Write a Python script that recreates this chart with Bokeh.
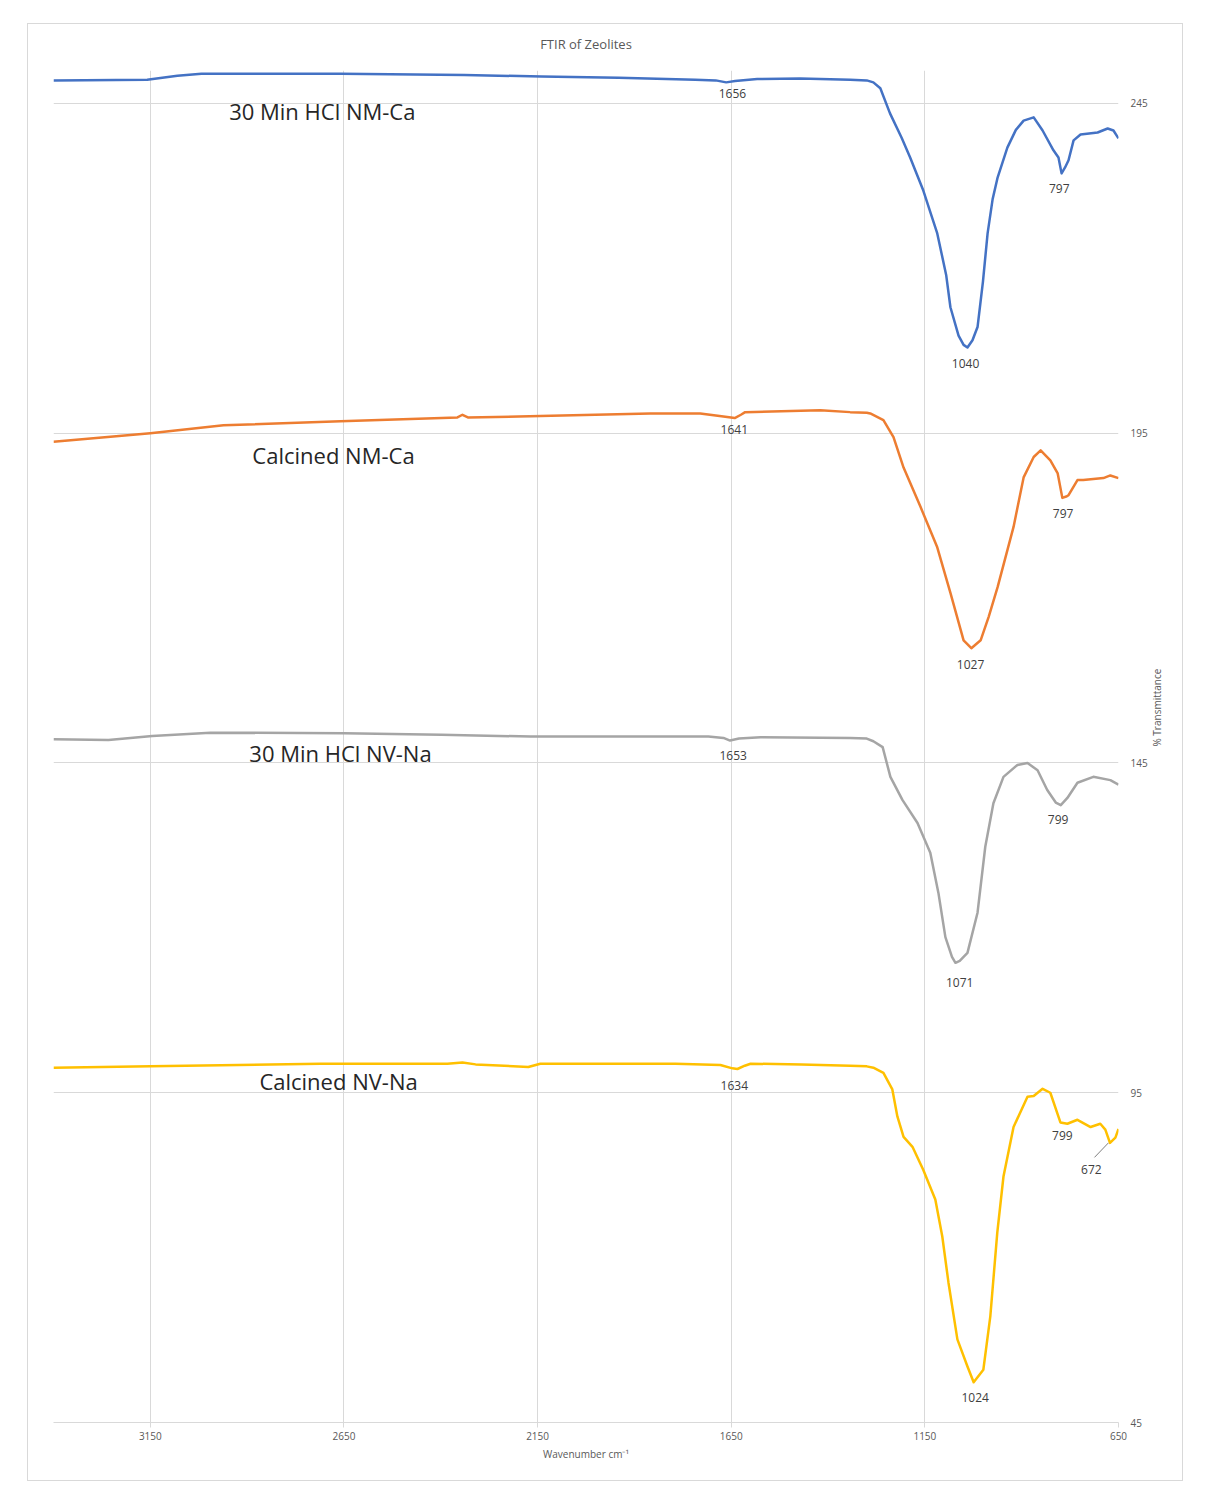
import math
from bokeh.plotting import figure
from bokeh.models import Range1d, FixedTicker, ColumnDataSource
from bokeh.core.properties import value
from bokeh.embed import file_html
from bokeh.resources import INLINE

# ---------------- data ----------------
# 30 Min HCl NM-Ca
wn_hcl_nmca = [3400, 3158, 3080, 3018, 2659, 2339, 2140, 1941, 1743, 1690, 1663, 1640, 1583,
               1472, 1343, 1300, 1283, 1265, 1240, 1210, 1188, 1154, 1118, 1095, 1084, 1063, 1050, 1040,
               1027, 1014, 1000, 988, 975, 962, 937, 915, 895, 869, 846, 818, 805, 797, 788, 779, 766, 748, 704,
               678, 663, 650]
t_hcl_nmca = [248.5, 248.6, 249.2, 249.5, 249.5, 249.3, 249.1, 248.9, 248.6, 248.5, 248.2, 248.4, 248.7,
              248.8, 248.6, 248.5, 248.2, 247.3, 243.5, 239.8, 236.8, 231.8, 225.3, 219.0, 214.1, 209.8, 208.4, 208.0,
              209.1, 211.1, 218.0, 225.3, 230.5, 233.8, 238.3, 241.0, 242.4, 242.9, 240.9, 237.9, 236.8, 234.4, 235.3, 236.4, 239.4,
              240.3, 240.6, 241.2, 240.9, 239.7]

# Calcined NM-Ca
wn_cal_nmca = [3400, 3150, 2961, 2659, 2357, 2344, 2330, 2143, 1859, 1730, 1680, 1641,
               1625, 1614, 1420, 1343, 1300, 1291, 1257, 1231, 1205, 1161, 1118, 1084, 1050,
               1030, 1006, 985, 962, 921, 895, 869, 851, 826, 807, 795, 785, 779, 756, 741,
               689, 671, 650]
t_cal_nmca = [193.7, 195.0, 196.2, 196.8, 197.4, 197.8, 197.4, 197.6, 198.0, 198.0, 197.6, 197.3,
              197.8, 198.2, 198.5, 198.2, 198.1, 198.0, 197.0, 194.4, 189.8, 183.8, 177.7, 170.8, 163.6,
              162.4, 163.6, 167.2, 171.7, 180.8, 188.3, 191.4, 192.4, 190.9, 188.9, 185.2, 185.4, 185.6,
              187.9, 187.9, 188.2, 188.6, 188.2]

# 30 Min HCl NV-Na
wn_hcl_nvna = [3400, 3258, 3145, 2995, 2649, 2399, 2168, 1709, 1670, 1653, 1630, 1574,
               1343, 1300, 1283, 1259, 1239, 1208, 1169, 1136, 1115, 1097, 1080, 1071, 1060,
               1040, 1014, 994, 973, 947, 911, 885, 859, 834, 812, 799, 782, 756, 715,
               671, 650]
t_hcl_nvna = [148.6, 148.5, 149.1, 149.6, 149.5, 149.3, 149.0, 149.0, 148.8, 148.4, 148.7, 148.9,
              148.8, 148.7, 148.3, 147.4, 142.9, 139.4, 135.9, 131.4, 125.3, 118.6, 115.6, 114.7, 115.0,
              116.2, 122.3, 132.3, 138.9, 142.9, 144.7, 145.0, 143.9, 140.9, 139.0, 138.6, 139.7,
              142.0, 142.9, 142.4, 141.7]

# Calcined NV-Na
wn_cal_nvna = [3400, 3150, 2711, 2383, 2344, 2310, 2174, 2143, 1794, 1678, 1647, 1634,
               1615, 1600, 1469, 1343, 1300, 1283, 1257, 1234, 1221, 1205, 1182, 1154, 1123,
               1105, 1089, 1066, 1040, 1024, 999, 981, 963, 947, 921, 885, 869, 846,
               826, 800, 782, 756, 722, 697, 684, 672, 658, 650]
t_cal_nvna = [98.8, 99.0, 99.4, 99.4, 99.6, 99.3, 98.9, 99.4, 99.4, 99.2, 98.7, 98.6,
              99.1, 99.4, 99.3, 99.1, 99.0, 98.8, 98.0, 95.5, 91.4, 88.3, 86.8, 83.3, 78.8,
              73.2, 66.2, 57.6, 53.5, 51.1, 53.0, 61.1, 73.8, 82.3, 89.8, 94.4, 94.5, 95.6,
              95.0, 90.5, 90.3, 90.9, 89.8, 90.3, 89.4, 87.4, 88.2, 89.5]

series_names = ["30 Min HCl NM-Ca", "Calcined NM-Ca", "30 Min HCl NV-Na", "Calcined NV-Na"]
series_colors = ["#4472C4", "#ED7D31", "#A5A5A5", "#FFC000"]

# peak annotations
peak_text = ["1656", "1040", "797", "1641", "1027", "797", "1653", "1071", "799", "1634", "1024", "799", "672"]
peak_x = [1647, 1045, 803, 1642, 1032, 793, 1645, 1060, 806, 1642, 1020, 795, 720]
peak_y = [246.5, 205.6, 232.1, 195.6, 160.0, 182.9, 146.1, 111.7, 136.4, 96.1, 48.8, 88.5, 83.3]

# series name labels
name_x = [2706, 2677, 2659, 2664]
name_y = [243.9, 191.7, 146.5, 96.8]

x_ticks = [3150, 2650, 2150, 1650, 1150, 650]
y_ticks = [45, 95, 145, 195, 245]

# ---------------- figure ----------------
p = figure(width=1178, height=1480, output_backend="svg", toolbar_location=None,
           x_range=Range1d(3400, 650), y_range=Range1d(45, 250),
           y_axis_location="right",
           min_border_left=37, min_border_right=76, min_border_top=58, min_border_bottom=70,
           margin=(12, 0, 0, 16))
p.styles = {"outline": "1px solid #d9d9d9", "outline-offset": "-12px",
            "background-color": "white"}
p.outline_line_color = None
p.background_fill_color = "white"
p.border_fill_color = None

p.title.text = "FTIR of Zeolites"
p.title.align = "center"
p.title.text_font = "Open Sans"
p.title.text_font_size = "13px"
p.title.text_font_style = "normal"
p.title.text_color = "#595959"
p.title.standoff = 36

grid_color = "#d9d9d9"
p.xgrid.ticker = FixedTicker(ticks=x_ticks)
p.ygrid.ticker = FixedTicker(ticks=y_ticks)
p.xgrid.grid_line_color = grid_color
p.ygrid.grid_line_color = grid_color

xa = p.xaxis[0]
xa.ticker = FixedTicker(ticks=x_ticks)
xa.axis_line_color = grid_color
xa.major_tick_line_color = grid_color
xa.major_tick_out = 5
xa.major_tick_in = 0
xa.minor_tick_line_color = None
xa.major_label_text_font = "Open Sans"
xa.major_label_text_font_size = "10px"
xa.major_label_text_color = "#595959"
xa.major_label_standoff = 4
xa.axis_label = "Wavenumber cm⁻¹"
xa.axis_label_text_font = "Open Sans"
xa.axis_label_text_font_size = "10px"
xa.axis_label_text_font_style = "normal"
xa.axis_label_text_color = "#595959"
xa.axis_label_standoff = 4

ya = p.yaxis[0]
ya.ticker = FixedTicker(ticks=y_ticks)
ya.axis_line_color = None
ya.major_tick_line_color = None
ya.minor_tick_line_color = None
ya.major_label_text_font = "Open Sans"
ya.major_label_text_font_size = "10px"
ya.major_label_text_color = "#595959"
ya.major_label_standoff = 6
ya.axis_label = "% Transmittance"
ya.axis_label_orientation = math.pi / 2
ya.axis_label_text_font = "Open Sans"
ya.axis_label_text_font_size = "10px"
ya.axis_label_text_font_style = "normal"
ya.axis_label_text_color = "#595959"
ya.axis_label_standoff = 6

all_wn = [wn_hcl_nmca, wn_cal_nmca, wn_hcl_nvna, wn_cal_nvna]
all_t = [t_hcl_nmca, t_cal_nmca, t_hcl_nvna, t_cal_nvna]
for wn, t, c in zip(all_wn, all_t, series_colors):
    p.line(wn, t, line_color=c, line_width=2.5, line_join="round")

# leader line for 672
p.line([712, 676], [85.2, 87.4], line_color="#7f7f7f", line_width=1)

p.text(x="x", y="y", text="t",
       source=ColumnDataSource(dict(x=peak_x, y=peak_y, t=peak_text)),
       text_align="center", text_baseline="middle",
       text_font=value("Open Sans"), text_font_size="12px", text_color="#404040")

p.text(x="x", y="y", text="t",
       source=ColumnDataSource(dict(x=name_x, y=name_y, t=series_names)),
       text_align="center", text_baseline="middle",
       text_font=value("Open Sans"), text_font_size="22px", text_color="#262626")

open("out.html", "w").write(file_html(p, INLINE))
